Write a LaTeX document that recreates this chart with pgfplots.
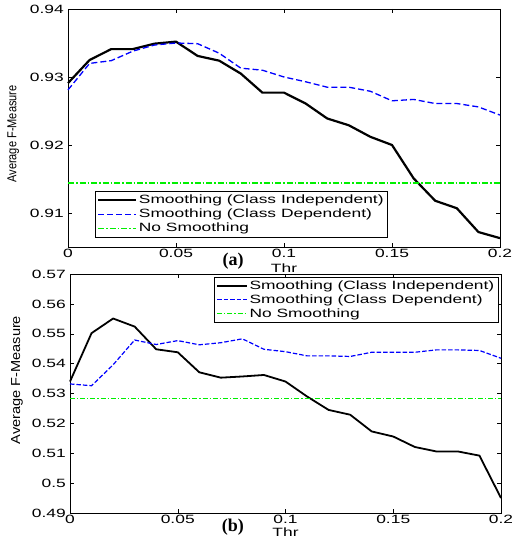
\documentclass[border=0pt]{standalone}
\usepackage{pgfplots}
\pgfplotsset{compat=1.18}
\usepackage{fontspec}
\newfontfamily\tickfont[FakeStretch=1.45]{Liberation Sans}
\newfontfamily\ylabfonta[FakeStretch=0.85]{Liberation Sans}
\newfontfamily\ylabfontb[FakeStretch=1.12]{Liberation Sans}
\newfontfamily\tagfont{Liberation Serif}
\definecolor{mblue}{RGB}{0,0,255}
\definecolor{mgreen}{RGB}{0,240,0}

\newcommand{\tf}{\tickfont\fontsize{12bp}{14bp}\selectfont}

\pgfplotsset{
  mstyle/.style={
    scale only axis, xmin=0, xmax=0.2,
    xtick={0,0.05,0.1,0.15,0.2},
    xticklabels={0,0.05,0.1,0.15,0.2},
    tick align=inside, major tick length=4bp,
    axis line style={line width=0.6bp},
    every tick/.style={black, line width=0.5bp},
    tick label style={font=\tf},
    xticklabel style={inner sep=1bp, yshift=-1bp},
    yticklabel style={inner sep=1bp, xshift=-3bp},
    xlabel={Thr},
    xlabel style={font=\tf, at={(axis description cs:0.5,0)}, anchor=center},
    legend cell align=left,
    legend style={draw=black, fill=white, font=\tf, inner sep=2bp,
      row sep=0.8bp, nodes={inner sep=1.5bp}},
    clip=false,
  },
}

\begin{document}
\begin{tikzpicture}
\useasboundingbox (0,0) rectangle (512bp,543bp);

% ---------------- (a) ----------------
\begin{axis}[mstyle,
    at={(68bp,296bp)}, anchor=south west,
    width=432bp, height=238bp,
    ymin=0.905, ymax=0.94,
    ytick={0.91,0.92,0.93,0.94},
    yticklabels={0.91,0.92,0.93,0.94},
    xlabel style={yshift=-21bp},
    ylabel={Average F-Measure},
    ylabel style={font=\ylabfonta\fontsize{13bp}{15bp}\selectfont,
      at={(axis description cs:-0.127,0.475)}, anchor=center},
    legend style={at={(0.0625,0.042)}, anchor=south west},
    legend image code/.code={\draw[#1] (0bp,0bp) -- (38bp,0bp);},
]
\addplot[black, line width=2.2bp] coordinates {
(0.00,0.9291) (0.01,0.9325) (0.02,0.9341) (0.03,0.9341) (0.04,0.9349)
(0.05,0.9352) (0.06,0.9331) (0.07,0.9324) (0.08,0.9305) (0.09,0.9277)
(0.10,0.9277) (0.11,0.9261) (0.12,0.9239) (0.13,0.9229) (0.14,0.9212)
(0.15,0.9200) (0.16,0.9151) (0.17,0.9118) (0.18,0.9107) (0.19,0.9072)
(0.20,0.9063)};
\addlegendentry{Smoothing (Class Independent)}
\addplot[mblue, line width=1.3bp, dash pattern=on 6bp off 3bp] coordinates {
(0.00,0.9281) (0.01,0.9320) (0.02,0.9324) (0.03,0.9338) (0.04,0.9347)
(0.05,0.9350) (0.06,0.9349) (0.07,0.9335) (0.08,0.9313) (0.09,0.9310)
(0.10,0.9300) (0.11,0.9293) (0.12,0.9285) (0.13,0.9285) (0.14,0.9279)
(0.15,0.9265) (0.16,0.9267) (0.17,0.9261) (0.18,0.9261) (0.19,0.9256)
(0.20,0.9244)};
\addlegendentry{Smoothing (Class Dependent)}
\addplot[mgreen, line width=1.3bp, dash pattern=on 6bp off 2bp on 1.5bp off 2bp] coordinates {
(0.00,0.9144) (0.20,0.9144)};
\addlegendentry{No Smoothing}
\node[font=\tagfont\bfseries\fontsize{18bp}{20bp}\selectfont]
  at (axis description cs:0.382,0) [yshift=-14bp] {(a)};
\end{axis}

% ---------------- (b) ----------------
\begin{axis}[mstyle,
    at={(70bp,30bp)}, anchor=south west,
    width=431bp, height=239bp,
    ymin=0.49, ymax=0.57,
    ytick={0.49,0.5,0.51,0.52,0.53,0.54,0.55,0.56,0.57},
    yticklabels={0.49,0.5,0.51,0.52,0.53,0.54,0.55,0.56,0.57},
    xlabel style={yshift=-19bp},
    ylabel={Average F-Measure},
    ylabel style={font=\ylabfontb\fontsize{13bp}{15bp}\selectfont,
      at={(axis description cs:-0.123,0.556)}, anchor=center},
    legend style={at={(0.993,0.987)}, anchor=north east},
    legend image code/.code={\draw[#1] (0bp,0bp) -- (30bp,0bp);},
]
\addplot[black, line width=1.8bp] coordinates {
(0.00,0.5340) (0.01,0.5502) (0.02,0.5551) (0.03,0.5524) (0.04,0.5448)
(0.05,0.5438) (0.06,0.5371) (0.07,0.5353) (0.08,0.5357) (0.09,0.5362)
(0.10,0.5340) (0.11,0.5290) (0.12,0.5245) (0.13,0.5229) (0.14,0.5173)
(0.15,0.5156) (0.16,0.5121) (0.17,0.5106) (0.18,0.5106) (0.19,0.5092)
(0.20,0.4950)};
\addlegendentry{Smoothing (Class Independent)}
\addplot[mblue, line width=1.2bp, dash pattern=on 4.5bp off 2bp] coordinates {
(0.00,0.5332) (0.01,0.5326) (0.02,0.5396) (0.03,0.5479) (0.04,0.5464)
(0.05,0.5477) (0.06,0.5463) (0.07,0.5470) (0.08,0.5483) (0.09,0.5448)
(0.10,0.5440) (0.11,0.5426) (0.12,0.5426) (0.13,0.5424) (0.14,0.5438)
(0.15,0.5438) (0.16,0.5438) (0.17,0.5446) (0.18,0.5446) (0.19,0.5444)
(0.20,0.5418)};
\addlegendentry{Smoothing (Class Dependent)}
\addplot[mgreen, line width=1.2bp, dash pattern=on 5bp off 2bp on 1.2bp off 2bp] coordinates {
(0.00,0.5284) (0.20,0.5284)};
\addlegendentry{No Smoothing}
\node[font=\tagfont\bfseries\fontsize{18bp}{20bp}\selectfont]
  at (axis description cs:0.378,0) [yshift=-14bp] {(b)};
\end{axis}
\end{tikzpicture}
\end{document}
